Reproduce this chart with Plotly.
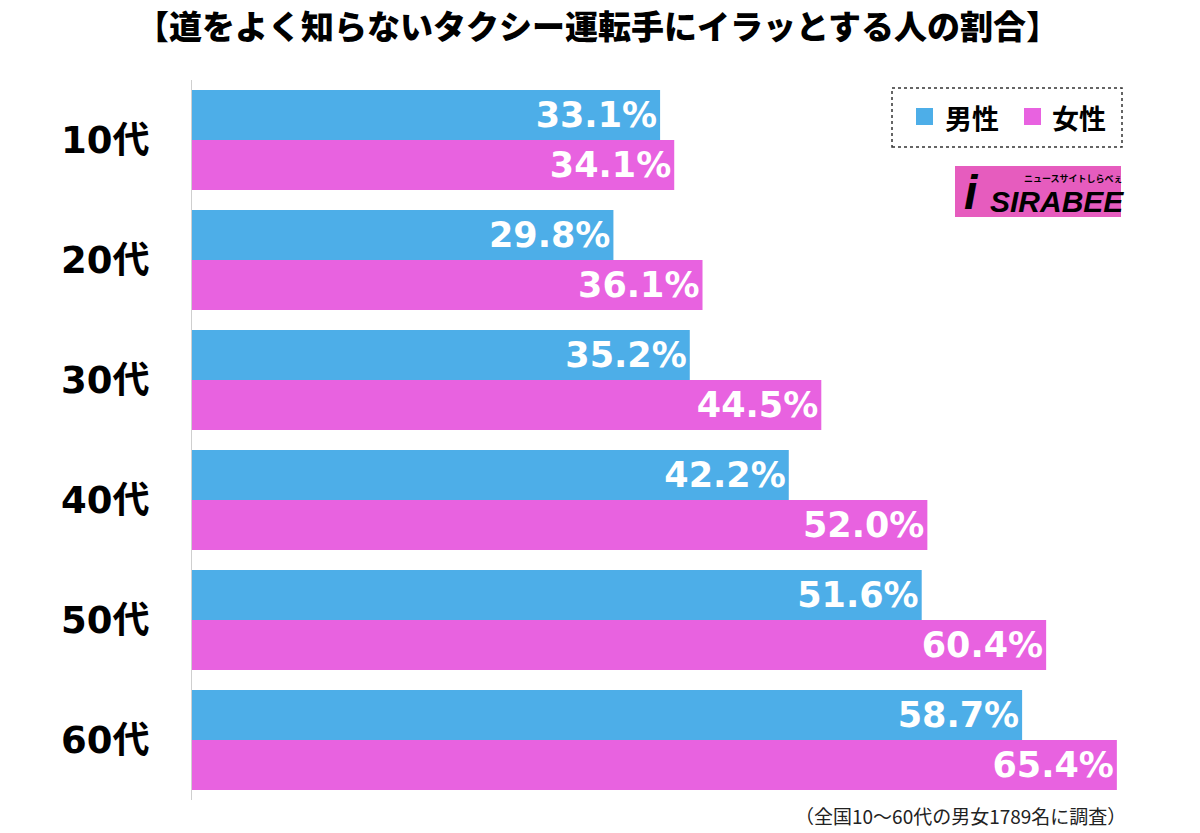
import plotly.graph_objects as go

categories = ["10代", "20代", "30代", "40代", "50代", "60代"]
male = [33.1, 29.8, 35.2, 42.2, 51.6, 58.7]
female = [34.1, 36.1, 44.5, 52.0, 60.4, 65.4]
series_names = ["男性", "女性"]
title_text = "【道をよく知らないタクシー運転手にイラッとする人の割合】"
footnote = "（全国10～60代の男女1789名に調査）"

BLUE = "#4DAEE8"
PINK = "#E862E0"
FONT = "Noto Sans CJK JP"
NUMFONT = "DejaVu Sans, Noto Sans CJK JP"

# plot area on screen: x 192..1131, y 80..800 (page body margin removed below)
W, H = 1200, 833
PL, PR, PT, PB = 192, 1131, 80, 800
PW, PH = PR - PL, PB - PT


def px(x):
    return (x - PL) / PW


def py(y):
    return (PB - y) / PH


fig = go.Figure()
for name, vals, col in [(series_names[0], male, BLUE), (series_names[1], female, PINK)]:
    fig.add_trace(go.Bar(
        y=categories, x=vals, name=name, orientation="h",
        marker=dict(color=col, line=dict(width=0)),
        text=[f"{v:.1f}%" for v in vals],
        textposition="inside", insidetextanchor="end",
        textfont=dict(color="white", size=35, family=NUMFONT, weight=700),
        cliponaxis=False, hoverinfo="skip",
    ))

fig.update_layout(
    width=W, height=H,
    margin=dict(l=PL, r=W - PR, t=PT, b=H - PB, autoexpand=False),
    paper_bgcolor="white", plot_bgcolor="white",
    barmode="group", bargap=0.1667, bargroupgap=0,
    showlegend=False,
    xaxis=dict(range=[0, 66.4], visible=False, fixedrange=True),
    yaxis=dict(autorange="reversed", showline=True, linecolor="#cfcfcf", linewidth=1,
               ticks="", showgrid=False, ticklabelstandoff=34, fixedrange=True,
               tickfont=dict(size=37, color="black", family=NUMFONT, weight=700)),
    font=dict(family=FONT),
)

# title
fig.add_annotation(text=title_text, xref="paper", yref="paper", x=px(597), y=1,
                   yshift=PT - 25, xanchor="center", yanchor="middle", showarrow=False,
                   borderpad=0,
                   font=dict(size=33, color="black", family=FONT, weight=900))
# footnote
fig.add_annotation(text=footnote, xref="paper", yref="paper", x=px(1128), y=py(815),
                   xanchor="right", yanchor="middle", showarrow=False,
                   font=dict(size=19, color="#222222", family=FONT))

# legend box (dotted)
fig.add_shape(type="rect", xref="paper", yref="paper",
              x0=px(892), x1=px(1122), y0=py(147), y1=py(88),
              line=dict(color="#333333", width=1.5, dash="dot"), fillcolor="white")
for nm, col, sx, tx in [(series_names[0], BLUE, 916, 943), (series_names[1], PINK, 1024, 1050)]:
    fig.add_shape(type="rect", xref="paper", yref="paper",
                  x0=px(sx), x1=px(sx + 17), y0=py(125), y1=py(108),
                  line=dict(width=0), fillcolor=col)
    fig.add_annotation(text=nm, xref="paper", yref="paper", x=px(tx),
                       y=py(117), xanchor="left", yanchor="middle", showarrow=False,
                       font=dict(size=27, color="black", family=FONT, weight=700))

# logo
fig.add_shape(type="rect", xref="paper", yref="paper",
              x0=px(955), x1=px(1121), y0=py(217), y1=py(166),
              line=dict(width=0), fillcolor="#E65CBE")
fig.add_annotation(text="<i>i</i>", xref="paper", yref="paper", x=px(962),
                   y=py(192), xanchor="left", yanchor="middle", showarrow=False,
                   font=dict(size=48, color="black", family="Liberation Sans", weight=900))
fig.add_annotation(text="<i>SIRABEE</i>", xref="paper", yref="paper", x=px(988),
                   y=py(202), xanchor="left", yanchor="middle", showarrow=False,
                   font=dict(size=30, color="black", family="Liberation Sans", weight=900))
fig.add_annotation(text="ニュースサイトしらべぇ", xref="paper", yref="paper", x=px(1022),
                   y=py(179), xanchor="left", yanchor="middle", showarrow=False,
                   font=dict(size=9, color="black", family=FONT, weight=700))

fig.write_html("out.html", config={"displayModeBar": False},
               post_script="document.body.style.margin='0';document.body.style.overflow='hidden';")
